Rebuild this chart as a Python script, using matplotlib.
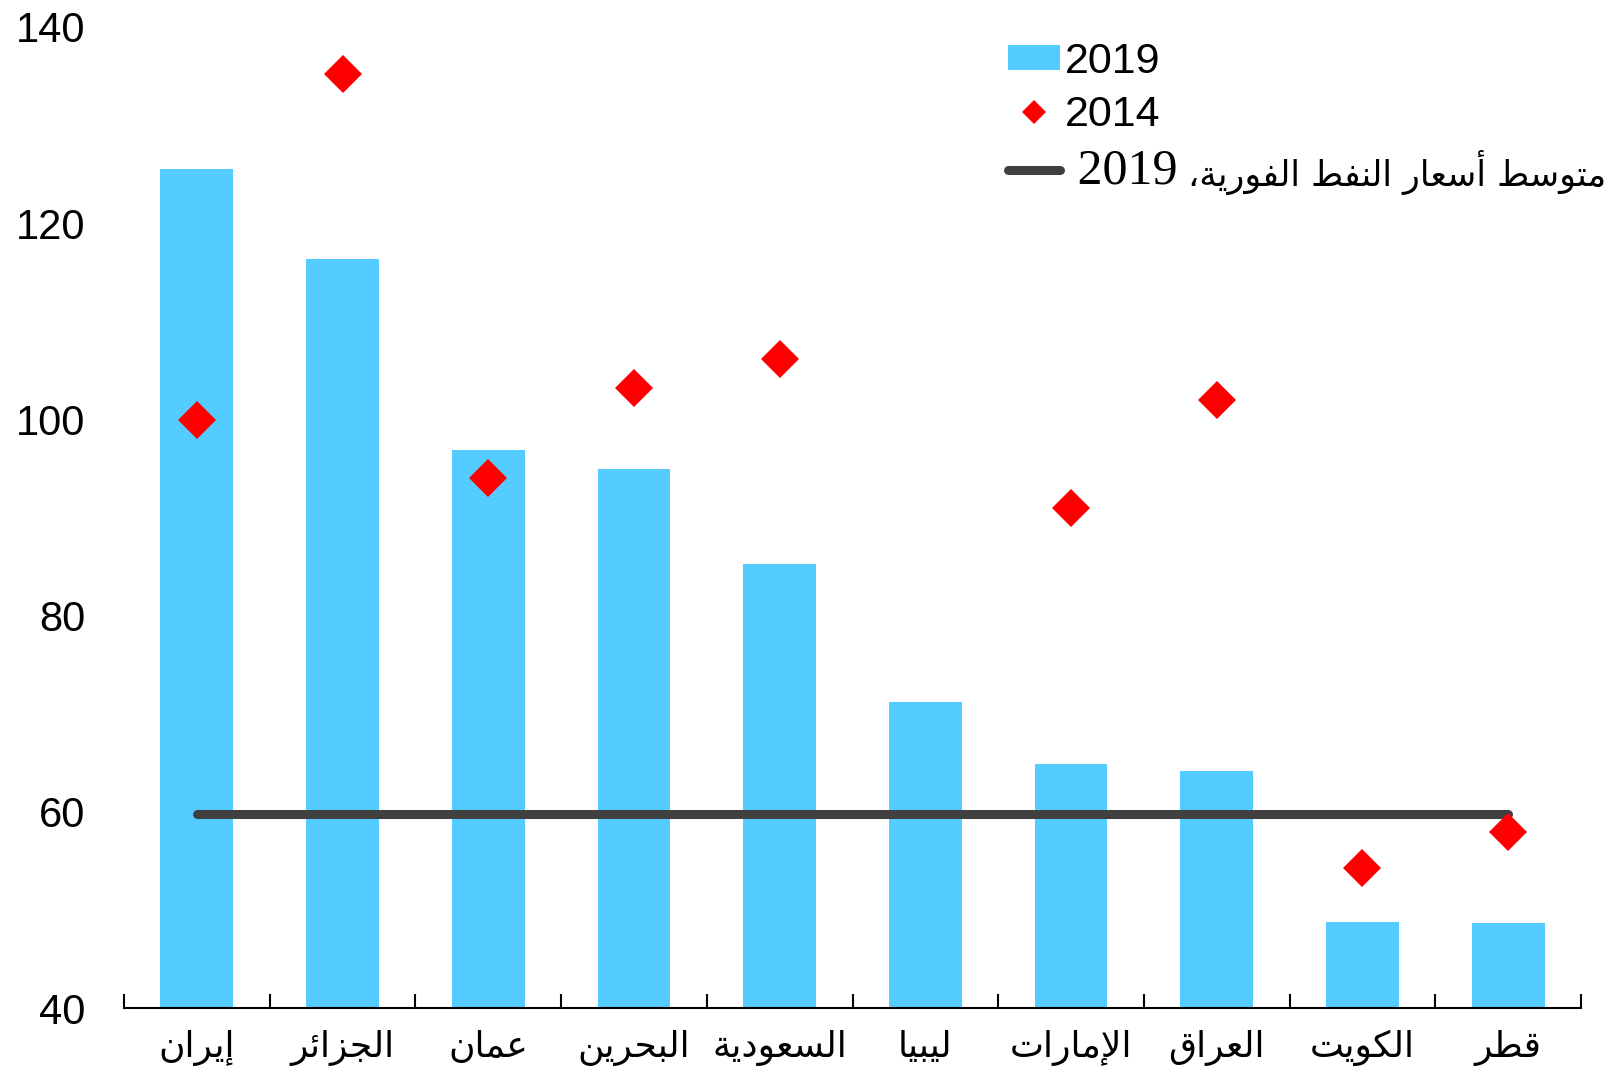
import numpy as np
import matplotlib
matplotlib.use("Agg")
import matplotlib.pyplot as plt
from matplotlib.lines import Line2D
from matplotlib.patches import Patch

# ---------------- data ----------------
countries = ["إيران", "الجزائر", "عمان", "البحرين", "السعودية",
             "ليبيا", "الإمارات", "العراق", "الكويت", "قطر"]
values_2019 = [125.5, 116.4, 96.9, 94.9, 85.3, 71.2, 64.9, 64.2, 48.8, 48.7]
values_2014 = [99.9, 135.2, 94.0, 103.2, 106.2, np.nan, 91.0, 102.0, 54.3, 57.9]
avg_oil_price_2019 = 59.75
yticks = [40, 60, 80, 100, 120, 140]
legend_labels = ["2019", "2014", "2019", "متوسط أسعار النفط الفورية،"]

# ---------------- minimal Arabic shaping (matplotlib has no complex layout) ----------------
DUAL = {'ئ': 0xFE89, 'ب': 0xFE8F, 'ت': 0xFE95, 'ث': 0xFE99, 'ج': 0xFE9D, 'ح': 0xFEA1,
        'خ': 0xFEA5, 'س': 0xFEB1, 'ش': 0xFEB5, 'ص': 0xFEB9, 'ض': 0xFEBD, 'ط': 0xFEC1,
        'ظ': 0xFEC5, 'ع': 0xFEC9, 'غ': 0xFECD, 'ف': 0xFED1, 'ق': 0xFED5, 'ك': 0xFED9,
        'ل': 0xFEDD, 'م': 0xFEE1, 'ن': 0xFEE5, 'ه': 0xFEE9, 'ي': 0xFEF1}
RIGHT = {'آ': 0xFE81, 'أ': 0xFE83, 'ؤ': 0xFE85, 'إ': 0xFE87, 'ا': 0xFE8D, 'ة': 0xFE93,
         'د': 0xFEA9, 'ذ': 0xFEAB, 'ر': 0xFEAD, 'ز': 0xFEAF, 'و': 0xFEED, 'ى': 0xFEEF}
LAMALEF = {'آ': 0xFEF5, 'أ': 0xFEF7, 'إ': 0xFEF9, 'ا': 0xFEFB}


def shape(s):
    units = []
    i = 0
    while i < len(s):
        c = s[i]
        if c == 'ل' and i + 1 < len(s) and s[i + 1] in LAMALEF:
            units.append(('R', LAMALEF[s[i + 1]]))
            i += 2
            continue
        if c in DUAL:
            units.append(('D', DUAL[c]))
        elif c in RIGHT:
            units.append(('R', RIGHT[c]))
        else:
            units.append(('N', c))
        i += 1
    out = []
    for j, (k, b) in enumerate(units):
        if k == 'N':
            out.append(b)
            continue
        prev = units[j - 1][0] if j > 0 else 'N'
        nxt = units[j + 1][0] if j + 1 < len(units) else 'N'
        jp = prev == 'D'
        jn = k == 'D' and nxt in ('D', 'R')
        if jp and jn:
            cp = b + 3
        elif jp:
            cp = b + 1
        elif jn:
            cp = b + 2
        else:
            cp = b
        out.append(chr(cp))
    return ''.join(reversed(out))


# ---------------- figure ----------------
BAR = '#55CCFF'
RED = '#FF0000'
LINE = '#404040'

fig = plt.figure(figsize=(16.22, 10.75), dpi=100)
ax = fig.add_axes([124 / 1622, 1 - 1008 / 1075, (1581 - 124) / 1622, (1008 - 27) / 1075])

x = np.arange(len(countries))
ax.bar(x, values_2019, width=0.5, color=BAR, zorder=2)
ax.plot([x[0], x[-1]], [avg_oil_price_2019] * 2, color=LINE, lw=6.5,
        solid_capstyle='round', zorder=3)
ax.plot(x, values_2014, ls='none', marker='D', markersize=19.5, color=RED,
        markeredgewidth=0, zorder=4)

ax.set_xlim(-0.5, len(countries) - 0.5)
ax.set_ylim(40, 140)
ax.set_yticks(yticks)
ax.set_yticklabels([str(t) for t in yticks], fontfamily='Liberation Sans', fontsize=30)
ax.tick_params(axis='y', length=0, pad=28)

ax.set_xticks(x)
ax.set_xticklabels([shape(c) for c in countries], fontfamily='DejaVu Sans', fontsize=26)
ax.set_xticks(np.arange(-0.5, len(countries), 1.0), minor=True)
ax.tick_params(axis='x', which='major', length=0, pad=16)
ax.tick_params(axis='x', which='minor', length=10, width=1.5, direction='in')

for s in ['left', 'right', 'top']:
    ax.spines[s].set_visible(False)
ax.spines['bottom'].set_linewidth(1.5)

handles = [Patch(facecolor=BAR, edgecolor='none'),
           Line2D([], [], ls='none', marker='D', markersize=12, color=RED, markeredgewidth=0),
           Line2D([], [], color=LINE, lw=6.5, solid_capstyle='round')]
labels = [legend_labels[0], legend_labels[1], ' ' + legend_labels[2]]
leg = ax.legend(handles, labels, loc='upper left', bbox_to_anchor=(1008 / 1622, 1 - 42 / 1075),
                bbox_transform=fig.transFigure, frameon=False, borderpad=0, borderaxespad=0,
                handlelength=1.2, handleheight=0.5, handletextpad=0.12, labelspacing=0.3,
                prop={'family': 'Liberation Sans', 'size': 31})
leg.set_zorder(5)
texts = leg.get_texts()
texts[2].set_fontfamily('Liberation Serif')
texts[2].set_fontsize(36)

ax.annotate(shape(legend_labels[3]), xy=(1, 0.5), xycoords=texts[2],
            xytext=(8, -1), textcoords='offset points', ha='left', va='center',
            fontfamily='DejaVu Sans', fontsize=25, annotation_clip=False, zorder=10)

fig.savefig('out.png', dpi=100)
